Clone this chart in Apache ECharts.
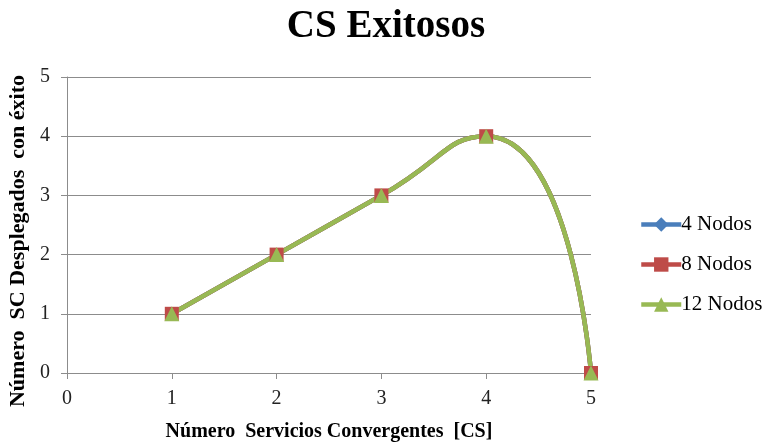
<!DOCTYPE html>
<html>
<head>
<meta charset="utf-8">
<script src="https://cdn.jsdelivr.net/npm/echarts@6/dist/echarts.min.js"></script>
<style>
  html, body { margin: 0; padding: 0; background: #fff; }
  #chart { width: 768px; height: 442px; }
</style>
</head>
<body>
<div id="chart"></div>
<script>
// x values (number of convergent services) and successful deployments per series
const xValues = [1, 2, 3, 4, 5];
const nodos4 = [1, 2, 3, 4, 0];
const nodos8 = [1, 2, 3, 4, 0];
const nodos12 = [1, 2, 3, 4, 0];
const seriesNames = ['4 Nodos', '8 Nodos', '12 Nodos'];

const serif = '"Liberation Serif", "DejaVu Serif", serif';

function pairs (ys) {
  return xValues.map(function (x, i) { return [x, ys[i]]; });
}

function lineSeries (name, ys, color, symbol, size) {
  return {
    name: name,
    type: 'line',
    data: pairs(ys),
    smooth: 0.6,
    symbol: symbol,
    symbolSize: size,
    showAllSymbol: true,
    lineStyle: { color: color, width: 4.5 },
    itemStyle: { color: color },
    emphasis: { disabled: true }
  };
}

let chart = echarts.init(document.getElementById('chart'));
chart.setOption({
  animation: false,
  title: {
    text: 'CS Exitosos',
    top: 2,
    left: 381,
    textAlign: 'center',
    textStyle: { fontFamily: serif, fontSize: 39, fontWeight: 'bold', color: '#000' }
  },
  legend: {
    orient: 'vertical',
    left: 634,
    top: 209,
    itemGap: 19,
    itemWidth: 40,
    itemHeight: 18,
    data: seriesNames,
    lineStyle: { width: 4.5 },
    textStyle: { fontFamily: serif, fontSize: 21, color: '#000', padding: [0, 0, 0, -5] }
  },
  grid: {
    left: 67,
    right: 177,
    top: 77,
    bottom: 69,
    outerBoundsMode: 'none'
  },
  xAxis: {
    type: 'value',
    min: 0,
    max: 5,
    interval: 1,
    name: 'Número  Servicios Convergentes  [CS]',
    nameLocation: 'middle',
    nameGap: 49,
    nameTextStyle: { fontFamily: serif, fontSize: 20, fontWeight: 'bold', color: '#000' },
    axisLine: { show: true, lineStyle: { color: '#8c8c8c', width: 1 } },
    axisTick: { show: true, length: 6, inside: false, lineStyle: { color: '#8c8c8c' } },
    axisLabel: { fontFamily: serif, fontSize: 20, color: '#222', margin: 16 },
    splitLine: { show: false }
  },
  yAxis: {
    type: 'value',
    min: 0,
    max: 5,
    interval: 1,
    name: 'Número  SC Desplegados  con éxito',
    nameLocation: 'middle',
    nameGap: 35,
    nameTextStyle: { fontFamily: serif, fontSize: 22, fontWeight: 'bold', color: '#000', padding: [0, 32, 0, 0] },
    axisLine: { show: true, lineStyle: { color: '#8c8c8c', width: 1 } },
    axisTick: { show: true, length: 6, lineStyle: { color: '#8c8c8c' } },
    axisLabel: { fontFamily: serif, fontSize: 20, color: '#222', margin: 17 },
    splitLine: { show: true, lineStyle: { color: '#8c8c8c', width: 1 } }
  },
  series: [
    lineSeries(seriesNames[0], nodos4, '#4A7EBB', 'diamond', 13),
    lineSeries(seriesNames[1], nodos8, '#BE4B48', 'rect', 14),
    lineSeries(seriesNames[2], nodos12, '#98B954', 'triangle', 15)
  ]
});
</script>
</body>
</html>
